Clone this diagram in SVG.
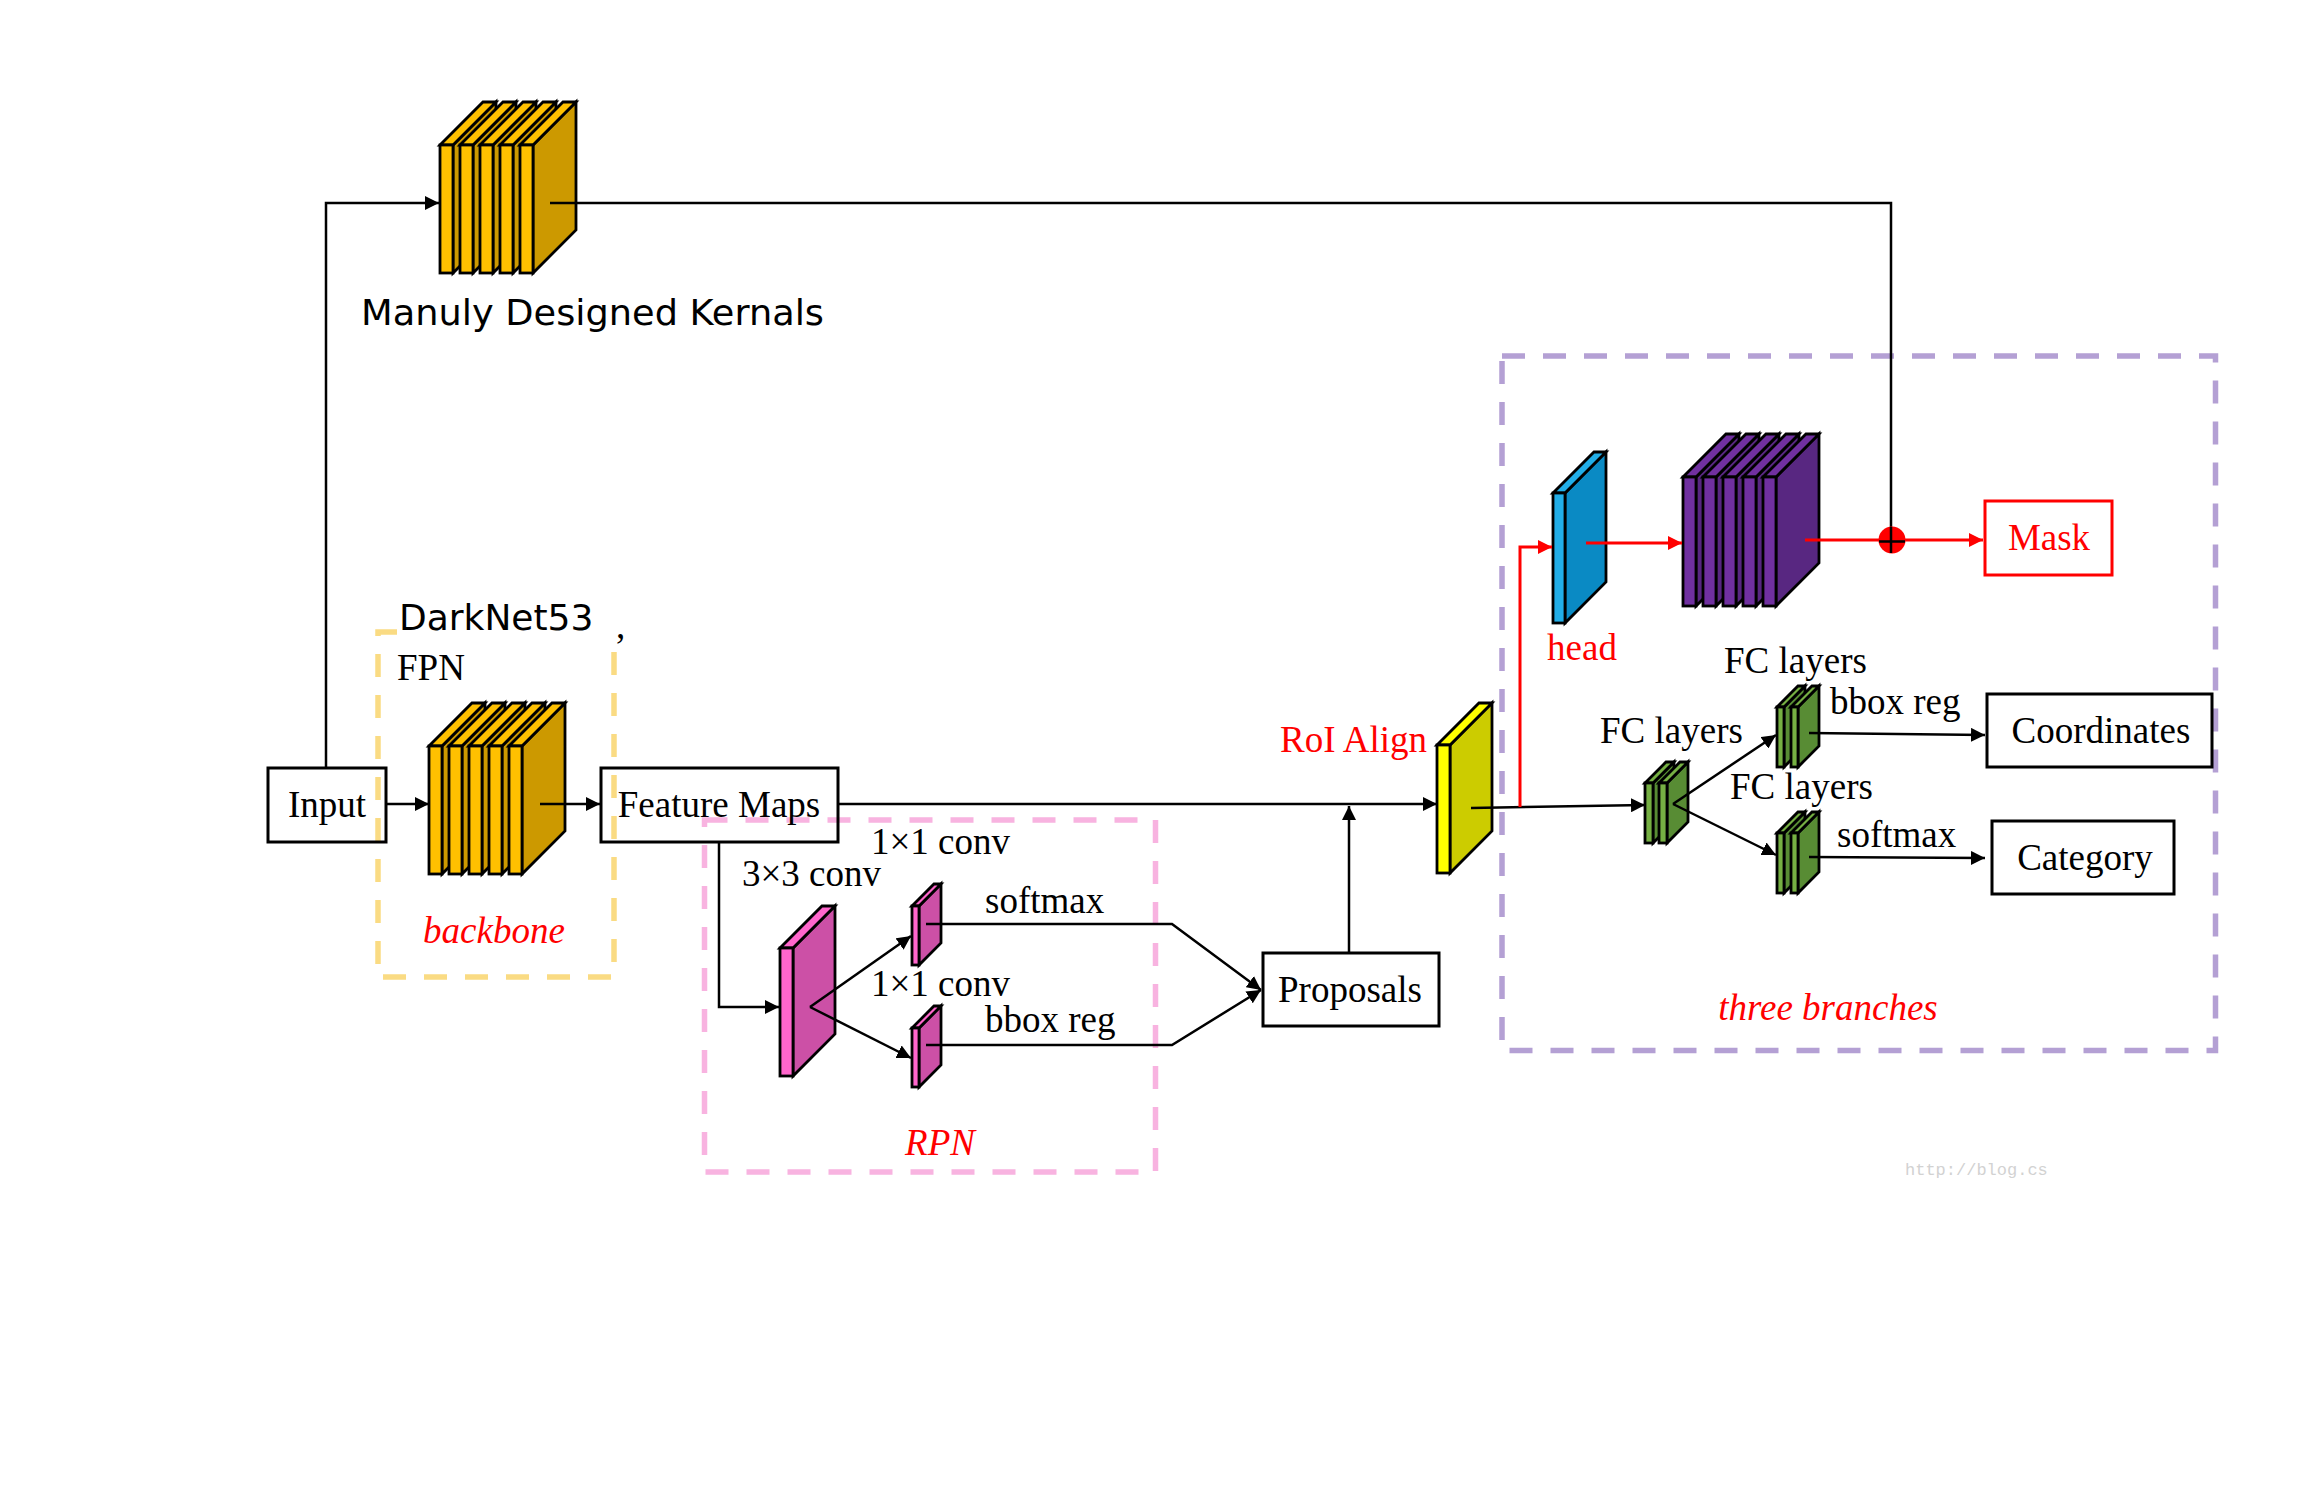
<svg xmlns="http://www.w3.org/2000/svg" width="2314" height="1489" viewBox="0 0 2314 1489">
<defs>
<style>
.ln{fill:none;stroke:#000;stroke-width:2.5}
.rl{fill:none;stroke:#f00;stroke-width:3}
.bx{fill:none;stroke:#000;stroke-width:3}
.dash{fill:none;stroke-width:5.5;stroke-dasharray:23 18}
.sl rect,.sl polygon{stroke:#000;stroke-width:2.8;stroke-linejoin:miter}
.t{font-family:"Liberation Serif","Times New Roman",serif;font-size:37px;fill:#000}
.red{fill:#f00}
.it{font-style:italic}
.s{font-family:"DejaVu Sans",Verdana,sans-serif;font-size:36px;fill:#000}
.gold .f{fill:#FFC000}.gold .r{fill:#CC9900}
.pur .f{fill:#7030A0}.pur .r{fill:#582781}
.blu .f{fill:#22AEE8}.blu .r{fill:#0A8AC4}
.yel .f{fill:#FFFF00}.yel .r{fill:#CCCC00}
.pnk .f{fill:#FF66CC}.pnk .r{fill:#CC50A6}
.grn .f{fill:#76B043}.grn .r{fill:#588C34}
</style>
<marker id="ah" markerUnits="userSpaceOnUse" markerWidth="14" markerHeight="14" viewBox="0 0 12 12" refX="12" refY="6" orient="auto"><path d="M0,0 L12,6 L0,12 z" fill="#000"/></marker>
<marker id="ahr" markerUnits="userSpaceOnUse" markerWidth="14" markerHeight="14" viewBox="0 0 12 12" refX="12" refY="6" orient="auto"><path d="M0,0 L12,6 L0,12 z" fill="#f00"/></marker>
</defs>
<rect width="2314" height="1489" fill="#fff"/>

<g id="groups">
<path id="backbone-frame" class="dash" stroke="#FADB83" d="M397,632 H378 V977 H614 V645"/>
<rect id="rpn-frame" class="dash" stroke="#F8B3E0" x="704.5" y="820" width="451" height="352"/>
<rect id="branches-frame" class="dash" stroke="#B4A0D4" x="1502" y="356" width="713.5" height="694.5"/>
</g>

<g id="kernels" class="sl gold">
<polygon class="r" points="453,145 496,102 496,230 453,273"/><polygon class="f" points="440,145 483,102 496,102 453,145"/><rect class="f" x="440" y="145" width="13" height="128"/>
<polygon class="r" points="473,145 516,102 516,230 473,273"/><polygon class="f" points="460,145 503,102 516,102 473,145"/><rect class="f" x="460" y="145" width="13" height="128"/>
<polygon class="r" points="493,145 536,102 536,230 493,273"/><polygon class="f" points="480,145 523,102 536,102 493,145"/><rect class="f" x="480" y="145" width="13" height="128"/>
<polygon class="r" points="513,145 556,102 556,230 513,273"/><polygon class="f" points="500,145 543,102 556,102 513,145"/><rect class="f" x="500" y="145" width="13" height="128"/>
<polygon class="r" points="533,145 576,102 576,230 533,273"/><polygon class="f" points="520,145 563,102 576,102 533,145"/><rect class="f" x="520" y="145" width="13" height="128"/>
</g>
<text id="kernels-label" class="s" x="361" y="325" textLength="463" lengthAdjust="spacingAndGlyphs">Manuly Designed Kernals</text>

<g id="input"><rect class="bx" x="268" y="768" width="118" height="74"/><text class="t" x="327" y="817" text-anchor="middle">Input</text></g>

<g id="backbone" class="sl gold">
<polygon class="r" points="442,746 485,703 485,831 442,874"/><polygon class="f" points="429,746 472,703 485,703 442,746"/><rect class="f" x="429" y="746" width="13" height="128"/>
<polygon class="r" points="462,746 505,703 505,831 462,874"/><polygon class="f" points="449,746 492,703 505,703 462,746"/><rect class="f" x="449" y="746" width="13" height="128"/>
<polygon class="r" points="482,746 525,703 525,831 482,874"/><polygon class="f" points="469,746 512,703 525,703 482,746"/><rect class="f" x="469" y="746" width="13" height="128"/>
<polygon class="r" points="502,746 545,703 545,831 502,874"/><polygon class="f" points="489,746 532,703 545,703 502,746"/><rect class="f" x="489" y="746" width="13" height="128"/>
<polygon class="r" points="522,746 565,703 565,831 522,874"/><polygon class="f" points="509,746 552,703 565,703 522,746"/><rect class="f" x="509" y="746" width="13" height="128"/>
</g>
<g id="backbone-labels">
<text class="s" x="399" y="630">DarkNet53</text>
<text class="t" x="616" y="638" font-size="30">,</text>
<text class="t" x="397" y="680">FPN</text>
<text class="t red it" x="494" y="943" text-anchor="middle">backbone</text>
</g>

<g id="feature-maps"><rect class="bx" x="601" y="768" width="237" height="74"/><text class="t" x="719" y="817" text-anchor="middle">Feature Maps</text></g>

<g id="rpn">
<g class="sl pnk">
<polygon class="r" points="793,948 835,906 835,1034 793,1076"/><polygon class="f" points="780,948 822,906 835,906 793,948"/><rect class="f" x="780" y="948" width="13" height="128"/>
<polygon class="r" points="919,906 941,884 941,943 919,965"/><polygon class="f" points="912,906 934,884 941,884 919,906"/><rect class="f" x="912" y="906" width="7" height="59"/>
<polygon class="r" points="919,1028 941,1006 941,1065 919,1087"/><polygon class="f" points="912,1028 934,1006 941,1006 919,1028"/><rect class="f" x="912" y="1028" width="7" height="59"/>
</g>
<text class="t" x="742" y="886">3×3 conv</text>
<text class="t" x="871" y="854">1×1 conv</text>
<text class="t" x="871" y="996">1×1 conv</text>
<text class="t" x="985" y="913">softmax</text>
<text class="t" x="985" y="1032">bbox reg</text>
<text class="t red it" x="940" y="1155" text-anchor="middle">RPN</text>
</g>

<g id="proposals"><rect class="bx" x="1263" y="953" width="176" height="73"/><text class="t" x="1350" y="1002" text-anchor="middle">Proposals</text></g>

<g id="roi-align">
<g class="sl yel"><polygon class="r" points="1450,745 1492,703 1492,831 1450,873"/><polygon class="f" points="1437,745 1479,703 1492,703 1450,745"/><rect class="f" x="1437" y="745" width="13" height="128"/></g>
<text class="t red" x="1427" y="752" text-anchor="end">RoI Align</text>
</g>

<g id="head">
<g class="sl blu"><polygon class="r" points="1565,493 1606,452 1606,582 1565,623"/><polygon class="f" points="1553,493 1594,452 1606,452 1565,493"/><rect class="f" x="1553" y="493" width="12" height="130"/></g>
<text class="t red" x="1582" y="660" text-anchor="middle">head</text>
</g>

<g id="mask-kernels" class="sl pur">
<polygon class="r" points="1696,477 1739,434 1739,563 1696,606"/><polygon class="f" points="1683,477 1726,434 1739,434 1696,477"/><rect class="f" x="1683" y="477" width="13" height="129"/>
<polygon class="r" points="1716,477 1759,434 1759,563 1716,606"/><polygon class="f" points="1703,477 1746,434 1759,434 1716,477"/><rect class="f" x="1703" y="477" width="13" height="129"/>
<polygon class="r" points="1736,477 1779,434 1779,563 1736,606"/><polygon class="f" points="1723,477 1766,434 1779,434 1736,477"/><rect class="f" x="1723" y="477" width="13" height="129"/>
<polygon class="r" points="1756,477 1799,434 1799,563 1756,606"/><polygon class="f" points="1743,477 1786,434 1799,434 1756,477"/><rect class="f" x="1743" y="477" width="13" height="129"/>
<polygon class="r" points="1776,477 1819,434 1819,563 1776,606"/><polygon class="f" points="1763,477 1806,434 1819,434 1776,477"/><rect class="f" x="1763" y="477" width="13" height="129"/>
</g>

<g id="mask"><rect fill="none" stroke="#f00" stroke-width="3" x="1985" y="501" width="127" height="74"/><text class="t red" x="2049" y="550" text-anchor="middle">Mask</text></g>

<g id="fc1">
<g class="sl grn">
<polygon class="r" points="1653,783 1674,762 1674,822 1653,843"/><polygon class="f" points="1645,783 1666,762 1674,762 1653,783"/><rect class="f" x="1645" y="783" width="8" height="60"/>
<polygon class="r" points="1667,783 1688,762 1688,822 1667,843"/><polygon class="f" points="1659,783 1680,762 1688,762 1667,783"/><rect class="f" x="1659" y="783" width="8" height="60"/>
</g>
<text class="t" x="1600" y="743">FC layers</text>
</g>

<g id="fc2">
<g class="sl grn">
<polygon class="r" points="1784,707 1805,686 1805,746 1784,767"/><polygon class="f" points="1777,707 1798,686 1805,686 1784,707"/><rect class="f" x="1777" y="707" width="7" height="60"/>
<polygon class="r" points="1798,707 1819,686 1819,746 1798,767"/><polygon class="f" points="1791,707 1812,686 1819,686 1798,707"/><rect class="f" x="1791" y="707" width="7" height="60"/>
</g>
<text class="t" x="1724" y="673">FC layers</text>
<text class="t" x="1830" y="714">bbox reg</text>
</g>

<g id="fc3">
<g class="sl grn">
<polygon class="r" points="1784,833 1805,812 1805,872 1784,893"/><polygon class="f" points="1777,833 1798,812 1805,812 1784,833"/><rect class="f" x="1777" y="833" width="7" height="60"/>
<polygon class="r" points="1798,833 1819,812 1819,872 1798,893"/><polygon class="f" points="1791,833 1812,812 1819,812 1798,833"/><rect class="f" x="1791" y="833" width="7" height="60"/>
</g>
<text class="t" x="1730" y="799">FC layers</text>
<text class="t" x="1837" y="847">softmax</text>
</g>

<g id="coordinates"><rect class="bx" x="1987" y="694" width="225" height="73"/><text class="t" x="2101" y="743" text-anchor="middle">Coordinates</text></g>
<g id="category"><rect class="bx" x="1992" y="821" width="182" height="73"/><text class="t" x="2085" y="870" text-anchor="middle">Category</text></g>
<text id="branches-label" class="t red it" x="1828" y="1020" text-anchor="middle">three branches</text>

<g id="connectors">
<path class="ln" d="M326,767 V203 H439" marker-end="url(#ah)"/>
<path class="ln" d="M550,203 H1891 V553"/>
<path class="ln" d="M387,804 H429" marker-end="url(#ah)"/>
<path class="ln" d="M540,804 H600" marker-end="url(#ah)"/>
<path class="ln" d="M839,804 H1437" marker-end="url(#ah)"/>
<path class="ln" d="M1349,952 V806" marker-end="url(#ah)"/>
<path class="ln" d="M719,843 V1007 H779" marker-end="url(#ah)"/>
<path class="ln" d="M810,1007 L911,936" marker-end="url(#ah)"/>
<path class="ln" d="M810,1007 L911,1058" marker-end="url(#ah)"/>
<path class="ln" d="M926,924 H1172 L1261,990" marker-end="url(#ah)"/>
<path class="ln" d="M926,1045 H1172 L1261,990" marker-end="url(#ah)"/>
<path class="ln" d="M1471,808 L1645,805" marker-end="url(#ah)"/>
<path class="ln" d="M1673,804 L1776,735" marker-end="url(#ah)"/>
<path class="ln" d="M1673,804 L1776,855" marker-end="url(#ah)"/>
<path class="ln" d="M1809,733 L1985,735" marker-end="url(#ah)"/>
<path class="ln" d="M1809,857 L1985,858" marker-end="url(#ah)"/>
<path class="rl" d="M1520,807 V547 H1552" marker-end="url(#ahr)"/>
<path class="rl" d="M1586,543 H1682" marker-end="url(#ahr)"/>
<path class="rl" d="M1805,540 H1983" marker-end="url(#ahr)"/>
<circle cx="1892" cy="540" r="13.5" fill="#f00"/>
<path class="ln" d="M1891,527 V553 M1879,541.5 H1905"/>
</g>

<text id="watermark" x="1905" y="1175" font-family="'Liberation Mono','DejaVu Sans Mono',monospace" font-size="17" fill="#D2D2D2">http://blog.cs</text>
</svg>
